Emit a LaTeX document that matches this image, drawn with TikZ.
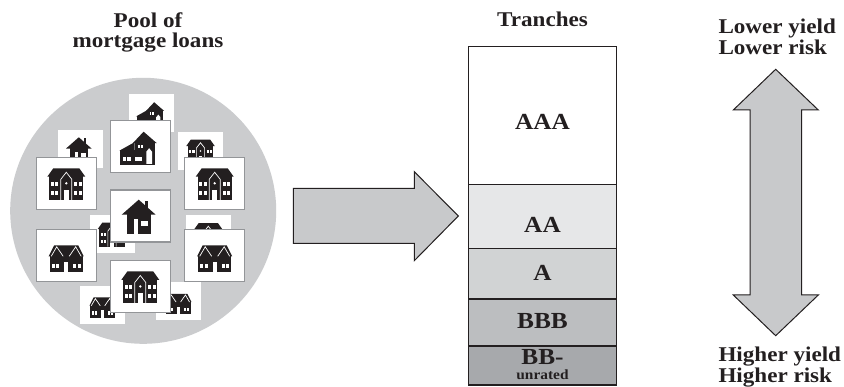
\documentclass[tikz,border=0pt]{standalone}
\usepackage{fontspec}
\setmainfont{Liberation Serif}[FakeStretch=1.1]
\definecolor{poolgray}{HTML}{CBCCCE}
\definecolor{cardgray}{HTML}{939598}
\definecolor{ink}{HTML}{231F20}
\definecolor{arrowgray}{HTML}{C8C9CB}
\definecolor{tAA}{HTML}{E6E7E8}
\definecolor{tA}{HTML}{D1D3D4}
\definecolor{tBBB}{HTML}{BCBEC0}
\definecolor{tBB}{HTML}{A7A9AC}
\tikzset{
  txt/.style={font=\fontsize{21}{21}\selectfont\bfseries, text=ink, inner sep=0pt},
  tlabel/.style={font=\fontsize{23}{23}\selectfont\bfseries, text=ink, inner sep=0pt},
  small/.style={font=\fontsize{14}{14}\selectfont\bfseries, text=ink, inner sep=0pt},
  card/.style={fill=white, draw=cardgray, line width=1.2pt, minimum width=60pt, minimum height=52pt, inner sep=0pt},
  backcard/.style={fill=white, minimum width=45pt, minimum height=38pt, inner sep=0pt},
  tranche/.style={draw=ink, line width=1.1pt},
  bigarrow/.style={fill=arrowgray, draw=ink, line width=1pt, line join=miter},
  house1/.pic={
    \fill[ink] (-19,-1.3) -- (-2,-16.3) -- (15,-1.3) -- cycle;
    \fill[ink] (4.3,-14.7) rectangle (7.7,-6);
    \fill[ink] (-13.7,-1.5) rectangle (10.3,17.7);
    \fill[white] (0.3,4.7) rectangle (7,10.3);
    \fill[white] (-6.5,3.5) rectangle (-2.5,17.7);
  },
  house2/.pic={
    \fill[ink] (-19,-6.6) -- (-13,-15) -- (13,-15) -- (19,-6.6) -- cycle;
    \fill[ink] (-17,-7) rectangle (17,16.7);
    \draw[white, line width=0.7pt] (-5.5,16.7) -- (-5.5,-4) -- (0,-11) -- (5.5,-4) -- (5.5,16.7);
    \fill[white] (-2.3,7) rectangle (2.3,16.7);
    \fill[white] (0,0) circle (1.3);
    \foreach \x in {-15.3,-11,8,12.3} \foreach \y in {-1.6,7.4} \fill[white] (\x,\y) rectangle ++(3,4.2);
  },
  house3/.pic={
    \fill[ink] (-17.5,1) -- (-12,-10) -- (12,-10) -- (17.5,1) -- cycle;
    \fill[ink] (-16.5,0.5) rectangle (16.5,17);
    \draw[white, line width=0.7pt] (-15,1) -- (-9.5,-8.5) -- (-3,1) (3,1) -- (9.5,-8.5) -- (15,1);
    \fill[white] (-2,7) rectangle (2,17);
    \foreach \x in {-14.5,-10,7,11.5} \fill[white] (\x,8.5) rectangle ++(3,4.3);
  },
  house4/.pic={
    \fill[ink] (-7.5,-3.5) -- (3.3,-15) -- (16.5,-3.5) -- cycle;
    \fill[ink] (-5.7,-5) rectangle (15,18.3);
    \fill[ink] (-5.7,-4.5) -- (-21,4) -- (-5.7,4) -- cycle;
    \fill[ink] (-20,3.3) rectangle (-5,18.3);
    \fill[white] (-2.7,-1.7) rectangle ++(2.2,3.3);
    \fill[white] (0.5,-1.7) rectangle ++(2.2,3.3);
    \foreach \x in {-17.3,-13,-5,-1.5} \fill[white] (\x,10) rectangle ++(3.2,4);
    \fill[white] (6,17.3) -- (6,5) -- (8.85,1.5) -- (11.7,5) -- (11.7,17.3) -- cycle;
  }
}
\begin{document}
\begin{tikzpicture}[x=1pt,y=-1pt]
\useasboundingbox[fill=white] (0,0) rectangle (844,387);
% pool
\node[txt, anchor=base] (pool1) at (148,27.7) {Pool of};
\node[txt, anchor=base] (pool2) at (148,47.7) {mortgage loans};
\fill[poolgray] (143.2,210.8) circle (133);
% back cards
\node[backcard] (ba) at (151.7,113.5) {};
\pic[scale=0.75] at (ba) {house4};
\node[backcard] (bb) at (80.3,149.5) {};
\pic[scale=0.75] at (bb) {house1};
\node[backcard] (bc) at (200.5,151) {};
\pic[scale=0.75] at (bc) {house2};
\node[backcard] (bd) at (112,234) {};
\pic[scale=0.75] at (bd) {house2};
\node[backcard] (be) at (208.3,234.5) {};
\pic[scale=0.75] at (be) {house2};
\node[backcard] (bf) at (102.5,305) {};
\pic[scale=0.75] at (bf) {house3};
\node[backcard] (bg) at (178.3,301.3) {};
\pic[scale=0.75] at (bg) {house3};
% front cards
\node[card] (c1) at (140.3,146.7) {};
\pic at (c1) {house4};
\node[card] (c2) at (66.3,183.3) {};
\pic at (c2) {house2};
\node[card] (c3) at (214.7,183.3) {};
\pic at (c3) {house2};
\node[card] (c4) at (140.7,216) {};
\pic at (c4) {house1};
\node[card] (c5) at (66.2,255.3) {};
\pic at (c5) {house3};
\node[card] (c6) at (214.7,255.3) {};
\pic at (c6) {house3};
\node[card] (c7) at (140.3,286.5) {};
\pic at (c7) {house2};
% right arrow
\draw[bigarrow] (293.3,188.3) -- (414.3,188.3) -- (414.3,171.7) -- (458.3,216) -- (414.3,260.7) -- (414.3,243.3) -- (293.3,243.3) -- cycle;
% tranches
\node[txt, anchor=base] (tr) at (542.5,26.7) {Tranches};
\draw[tranche, fill=white] (468.3,46.7) rectangle (616.7,184.3);
\draw[tranche, fill=tAA] (468.3,184.3) rectangle (616.7,248.3);
\draw[tranche, fill=tA] (468.3,248.3) rectangle (616.7,299);
\draw[tranche, fill=tBBB] (468.3,299) rectangle (616.7,346);
\draw[tranche, fill=tBB] (468.3,346) rectangle (616.7,385);
\node[tlabel, anchor=base] (lAAA) at (542.5,129.3) {AAA};
\node[tlabel, anchor=base] (lAA) at (542.5,232.3) {AA};
\node[tlabel, anchor=base] (lA) at (542.5,281) {A};
\node[tlabel, anchor=base] (lBBB) at (542.5,329) {BBB};
\node[tlabel, anchor=base] (lBB) at (542.5,365) {BB-};
\node[small, anchor=base] (lun) at (542.5,380) {unrated};
% double arrow
\draw[bigarrow] (775.7,69.3) -- (818.3,110) -- (801.7,110) -- (801.7,295) -- (818.3,295) -- (775.7,335.7) -- (733.3,295) -- (750,295) -- (750,110) -- (733.3,110) -- cycle;
\node[txt, anchor=base west] (ly) at (718.3,33.3) {Lower yield};
\node[txt, anchor=base west] (lr) at (718.3,55) {Lower risk};
\node[txt, anchor=base west] (hy) at (718.3,361.7) {Higher yield};
\node[txt, anchor=base west] (hr) at (718.3,382.8) {Higher risk};
\end{tikzpicture}
\end{document}
